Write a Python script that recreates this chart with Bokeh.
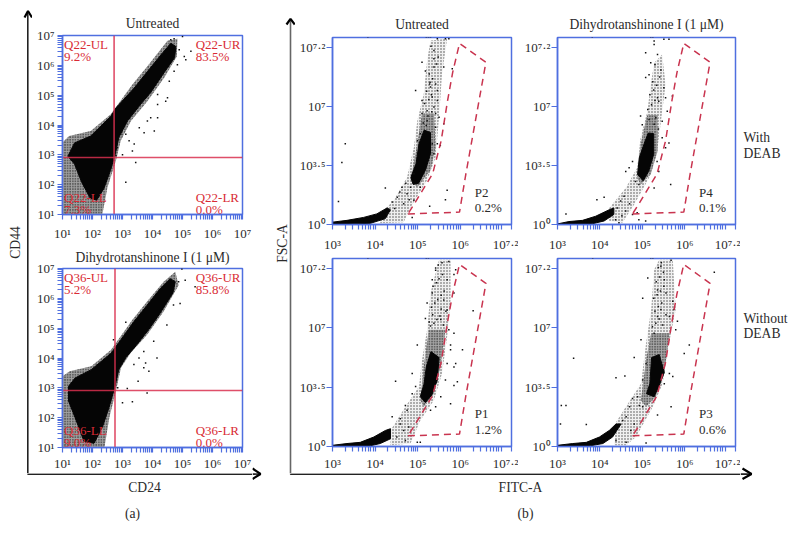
from math import pi
from bokeh.embed import file_html
from bokeh.resources import INLINE
from bokeh.plotting import figure
from bokeh.layouts import row, column
from bokeh.models import FixedTicker
from bokeh.core.properties import value

FONT = "Liberation Serif"
BLUE = "#4f6fe0"
RED = "#d9304f"
GATE = "#c9344f"
TXT = "#2b2b2b"

# ---------- panel (a): CD24 / CD44, log10 values
a_major_exp = [1, 2, 3, 4, 5, 6, 7]
a_major_labels = ["10¹", "10²", "10³", "10⁴", "10⁵", "10⁶", "10⁷"]
a_titles = ["Untreated", "Dihydrotanshinone I (1 μM)"]
a1_labels = ["Q22-UL", "9.2%", "Q22-UR", "83.5%", "Q22-LL", "7.3%", "Q22-LR", "0.0%"]
a2_labels = ["Q36-UL", "5.2%", "Q36-UR", "85.8%", "Q36-LL", "9.0%", "Q36-LR", "0.0%"]
a_gate_x = [2.72, 2.75]
a_gate_y = [2.91, 2.91]

a1_core_x = [1.18,1.40,1.94,2.61,2.78,3.39,3.83,4.28,4.61,4.78,4.74,4.39,3.94,3.61,3.17,2.88,2.76,2.60,2.38,2.14,1.92,1.64,1.40]
a1_core_y = [2.95,3.40,3.63,4.29,4.57,5.24,5.79,6.35,6.74,6.63,6.26,5.76,5.09,4.70,4.14,3.59,3.03,2.48,1.87,1.48,1.55,2.08,2.69]
a1_halo_x = [1,1.22,1.94,2.61,3.33,3.83,4.5,4.83,4.81,4.39,3.83,3.28,2.94,2.78,2.5,2.33,1]
a1_halo_y = [3.41,3.63,3.80,4.36,5.36,5.97,6.82,6.89,6.3,5.58,4.8,4.13,3.47,2.8,1.91,1.02,1.02]
a1_dots_x = [3.44,3.11,3.33,3,2.78,3.39,3.72,4.06,3.94,4.17,4.44,4.17,4.72,4.83,5.11,5.06,5.28,5,4.72,4.5,3.56,3.83,3.22,3.11,4.17,4.56,4.89,4.61,2.83,2.94]
a1_dots_y = [2.74,2.08,3.13,3,2.97,3.36,3.74,3.8,4.24,4.24,4.8,4.69,5.8,6.02,6.19,6.3,6.47,6.97,6.89,4.91,3.91,4.13,3.47,3.69,5.02,5.47,6.52,6.86,3.24,3.69]

a2_core_x = [1.20,1.42,1.96,2.62,2.78,3.38,3.82,4.26,4.59,4.76,4.68,4.26,3.88,3.49,3.11,2.88,2.74,2.55,2.33,2.05,1.72,1.42,1.20]
a2_core_y = [3.05,3.33,3.61,4.16,4.38,5.22,5.77,6.33,6.66,6.56,6.18,5.51,4.96,4.46,4.01,3.62,3.01,2.34,1.68,1.14,1.20,2.0,2.56]
a2_halo_x = [1,1.24,1.96,2.62,3.33,3.82,4.37,4.76,4.87,4.37,3.82,3.27,2.95,2.78,2.56,2.4,1]
a2_halo_y = [3.39,3.56,3.72,4.28,5.28,5.89,6.56,6.89,6.44,5.56,4.78,4.17,3.67,2.89,2.0,1.02,1.02]
a2_dots_x = [3,3.33,3.82,3.16,3.52,3.71,3.77,4.15,3.88,4.92,5.09,4.98,4.87,2.84,2.7,3.11,5.42,3.38,3.55,3.71,4.04,4.48,4.7]
a2_dots_y = [2.5,2.53,2.83,2.98,3.22,3.67,3.83,4,3.56,5.83,6.61,6.98,6.56,3,4.61,5.2,6.39,3.78,4,4.22,4.56,5.11,5.78]

# ---------- panel (b): FITC-A (log10) / FSC-A (axis steps)
b_x_major_exp = [3, 4, 5, 6, 7.2]
b_x_labels = ["10³", "10⁴", "10⁵", "10⁶", "10⁷·²"]
b_y_steps = [0, 1, 2, 3]
b_y_labels = ["10⁰", "10³·⁵", "10⁷", "10⁷·²"]
b_gate_x = [4.77,5.98,6.13,6.6,5.98,5.82,5.7,5.55,5.35,4.92,4.77]
b_gate_y = [0.18,0.21,0.86,2.75,3.07,2.58,2.1,1.42,0.86,0.35,0.18]
b_titles = ["Untreated", "Dihydrotanshinone I (1 μM)"]
b_gate_names = ["P2\n0.2%", "P4\n0.1%", "P1\n1.2%", "P3\n0.6%"]
b_side = ["With", "DEAB", "Without", "DEAB"]

b11_tail_x = [3,3.34,3.73,4.04,4.28,4.36,4.24,3.89,3]
b11_tail_y = [.04,.07,.12,.18,.28,.25,.10,.02,0]
b11_core_x = [4.84,4.96,5.03,5.15,5.30,5.30,5.18,5.02,4.89]
b11_core_y = [.80,1.03,1.37,1.60,1.56,1.2,.92,.70,.68]
b11_mid_x = [4.83,4.99,5.1,5.38,5.42,5.3,4.99]
b11_mid_y = [.75,1.37,1.88,1.88,1.31,.92,.63]
b11_halo_x = [4.12,4.44,4.75,4.91,4.99,5.14,5.22,5.3,5.69,5.57,5.5,5.42,5.22,4.83,4.67,4.12]
b11_halo_y = [.18,.41,.8,1.31,1.76,2.21,2.78,3.12,3.15,2.55,1.82,1.14,.75,.29,.04,.02]
b11_dots_x = [3.3,3.22,3.14,4.24,4.95,5.1,5.38,5.38,5.46,5.65,5.73,5.81,5.61,5.38,5.28,5.1,5.46,5.61,5.69,5.65,5.28,4.87,4.91,4.75,4.63,4.52,4.67,4.4,4.28,4.83,4.91,5.06,5.34,5.38,5.46,5.53,5.42,5.06,4.99,5.22,5.38,5.1,5.3,5.46,5.22,5.34,5.5,5.42,3.83,5.2,5.25,5.3,5.16,5.26,5.32,5.21,5.29,5.35,5.27,5.18,5.42,5.24,5.33,5.2,5.13,5.44,5.31,5.48,4.72,4.58,4.8,4.46]
b11_dots_y = [1.37,1.05,.39,.62,2.27,2.75,2.95,2.81,3.15,3.15,3.15,2.64,2.67,2.67,2.38,2.1,2.1,1.71,.58,.42,.31,.12,.41,.52,.63,.46,.35,.38,.18,.63,.86,.63,1.37,1.2,1.37,1.34,1.65,1.54,1.42,1.93,1.99,1.88,2.33,2.27,1.76,2.16,1.82,1.88,3.18,3.18,3.18,3.18,2.05,2.12,2.2,2.26,2.41,2.47,2.55,2.6,2.38,1.84,1.91,1.68,1.72,2.72,3.02,2.84,.7,.55,.42,.27]

b12_tail_x = [3,3.27,3.59,3.9,4.22,4.33,4.33,4.1,3.75,3]
b12_tail_y = [.01,.05,.07,.14,.25,.28,.17,.06,0,0]
b12_core_x = [4.89,4.93,5.05,5.14,5.27,5.27,5.15,5.02]
b12_core_y = [.85,1.13,1.38,1.55,1.54,1.19,.9,.74]
b12_mid_x = [4.88,4.96,5.12,5.36,5.36,5.2,4.96]
b12_mid_y = [.79,1.36,1.86,1.86,1.24,.85,.68]
b12_halo_x = [4.22,4.61,4.88,4.96,5.12,5.2,5.28,5.47,5.55,5.43,5.35,5.16,4.81,4.53,4.22]
b12_halo_y = [.28,.62,.96,1.47,1.92,2.37,2.74,2.88,2.37,1.69,1.24,.79,.34,.03,.06]
b12_dots_x = [3.2,4.1,3.93,4.61,4.69,4.77,4.84,4.92,5.08,5.28,5.51,5.63,5.08,5.36,5.3,5.16,5.51,5.55,5.71,5.59,5.39,5.47,5.47,5.63,5.55,5.35,5.39,5.67,5.28,5.08,4.92,4.61,4.49,4.57,4.41,4.37,4.45,4.77,4.88,5.28,5.2,4.96,5,5.32,5.36,3.82,5.2,5.25,5.13,5.22,5.3,5.18,5.27,5.34,5.25,5.41,5.16,5.28,5.38,5.44,4.7,4.52]
b12_dots_y = [.18,.46,.42,.9,.96,1.07,.73,.68,2.91,3.11,3.14,3.14,2.49,2.88,2.71,2.54,2.32,2.15,2.18,1.92,2.09,1.75,1.47,1.38,1.3,1.07,.9,.68,.62,.06,.08,.23,.4,.48,.28,.08,.03,.17,.2,3.05,2.74,1.84,1.69,1.81,2.15,3.18,3.18,3.18,1.95,2.03,2.1,2.2,2.28,2.36,2.42,2.5,1.78,1.7,1.62,2.62,.35,.15]

b21_tail_x = [3,3.34,3.65,3.97,4.24,4.36,4.36,4.12,3.81,3]
b21_tail_y = [.02,.05,.07,.16,.27,.3,.13,.05,0,0]
b21_core_x = [5.06,5.15,5.2,5.31,5.5,5.46,5.33,5.18]
b21_core_y = [.84,1.06,1.34,1.6,1.5,1.12,.87,.74]
b21_mid_x = [5.06,5.14,5.26,5.65,5.53,5.38,5.14]
b21_mid_y = [.78,1.34,1.97,1.97,1.34,.89,.67]
b21_halo_x = [4.36,4.71,5.03,5.1,5.22,5.3,5.5,5.77,5.77,5.69,5.57,5.38,5.06,4.83,4.36]
b21_halo_y = [.27,.67,1.01,1.46,1.97,2.59,3.15,3.15,2.47,1.85,1.23,.78,.44,.05,.02]
b21_dots_x = [4.48,4.99,4.71,4.59,4.4,4.59,4.87,4.95,4.75,4.87,5.18,5.22,5.42,5.85,5.73,5.85,5.89,5.93,5.85,6.05,6.3,5.85,5.69,5.89,5.85,5.69,5.77,5.65,5.54,5.77,5.42,5.3,4.99,5.06,4.79,4.67,4.51,4.71,5.77,5.61,5.69,5.54,5.34,5.34,5.57,5.73,3.83,5.2,5.25,5.3,5.38,5.45,5.52,5.6,5.66,5.32,5.4,5.47,5.55,5.62,5.36,5.44,5.5,5.58,5.42,5.48,5.55,5.27,5.35]
b21_dots_y = [1.1,1.71,.69,.47,.5,.38,.89,1.01,.61,1.23,2.16,2.42,3.01,2.9,1.97,1.91,1.4,1.09,1.03,1.63,2.29,2.59,2.81,2.98,1.34,1.4,1.63,1.12,.84,.72,.67,.61,.07,.07,.33,.27,.16,.1,1.71,2.47,2.3,2.14,2.81,2.59,3.1,3.12,3.18,3.18,3.18,2.03,2.08,2.14,2.2,2.05,2.28,2.35,2.42,2.48,2.55,2.62,2.7,2.76,2.83,2.9,2.97,3.06,2.32,2.1,2.22]

b22_tail_x = [3,3.36,3.68,3.99,4.22,4.38,4.5,4.3,4.07,3.68,3]
b22_tail_y = [.02,.05,.07,.16,.27,.38,.38,.16,.05,0,0]
b22_core_x = [5.1,5.18,5.22,5.4,5.52,5.38,5.28]
b22_core_y = [.89,1.06,1.5,1.55,1.25,1.0,.84]
b22_mid_x = [4.97,5.09,5.21,5.64,5.52,5.32,5.09]
b22_mid_y = [.78,1.46,1.91,1.91,1.23,.84,.67]
b22_halo_x = [4.38,4.66,4.97,5.09,5.21,5.28,5.4,5.72,5.79,5.6,5.48,5.25,4.85,4.62,4.34]
b22_halo_y = [.41,.72,1.06,1.74,2.31,2.98,3.15,3.15,2.31,1.63,1.06,.67,.16,.02,.02]
b22_dots_x = [3.38,3.09,3.2,3.07,3.68,4.38,4.59,4.81,4.97,5.01,5.13,5.44,5.68,6.7,6.11,5.99,5.79,5.83,5.75,5.72,5.64,5.72,5.52,5.68,5.36,5.09,4.7,4.77,4.93,5.01,4.89,4.62,4.54,4.73,4.81,4.62,4.38,5.52,5.36,5.44,5.36,5.56,5.28,5.64,5.09,5.01,3.83,5.2,5.25,5.24,5.32,5.4,5.48,5.56,5.3,5.38,5.46,5.27,5.35,5.43,5.51,5.33,5.41,5.5,5.38,5.45]
b22_dots_y = [1.49,.69,.69,.38,.37,1.16,1.19,1.5,1.8,2.5,2.84,3.04,3.14,2.94,1.71,1.57,1.97,2.11,2.31,2.45,1.23,1.18,1.06,.67,.53,.06,.67,.81,.69,.67,.84,.5,.44,.27,.38,.07,.1,2.81,2.64,2.31,2.19,2.59,1.91,2.19,1.4,1.12,3.18,3.18,3.18,2.02,2.08,2.15,2.05,2.22,2.28,2.36,2.42,2.5,2.56,2.62,2.7,2.78,2.86,2.94,3.02,3.1]


def pow10(seq):
    return [10.0 ** v for v in seq]


def decade_minors(lo, hi):
    return [m * 10.0 ** d for d in range(lo, hi) for m in range(2, 10)]


def base(w, h, l, r, t, b, xr, yr, y_log, x_standoff):
    p = figure(width=w, height=h, x_axis_type="log", y_axis_type="log" if y_log else "linear",
               x_range=xr, y_range=yr, toolbar_location=None, output_backend="svg",
               min_border_left=l, min_border_right=r, min_border_top=t, min_border_bottom=b,
               background_fill_color="white", border_fill_color="white")
    p.grid.visible = False
    p.outline_line_color = BLUE
    p.outline_line_width = 1.5
    for ax in (p.xaxis[0], p.yaxis[0]):
        ax.axis_line_color = BLUE
        ax.axis_line_width = 1.5
        ax.major_tick_line_color = BLUE
        ax.minor_tick_line_color = BLUE
        ax.major_tick_line_width = 1.2
        ax.minor_tick_line_width = 1.2
        ax.major_tick_in = 0
        ax.minor_tick_in = 0
        ax.major_tick_out = 5
        ax.minor_tick_out = 5
        ax.major_label_text_font = FONT
        ax.major_label_text_font_size = "13px"
        ax.major_label_text_color = TXT
    p.xaxis[0].major_label_standoff = x_standoff
    p.yaxis[0].major_label_standoff = 3
    return p


def stipple(p, xs, ys, fill, scale, alpha):
    p.patch(xs, ys, fill_color=fill, line_color=None, hatch_pattern="dot",
            hatch_color="black", hatch_scale=scale, hatch_alpha=alpha)


def set_title(p, text, standoff, offset=0):
    p.title.text = text
    p.title.align = "center"
    p.title.offset = offset
    p.title.text_font = FONT
    p.title.text_font_style = "normal"
    p.title.text_font_size = "13.6px"
    p.title.text_color = TXT
    p.title.standoff = standoff


def panel_a(w, h, l, r, t, b, title, title_standoff, x_standoff, labels, hx, hy, cx, cy, dx, dy, qx, qy):
    p = base(w, h, l, r, t, b, (10, 1e7), (10, 1e7), True, x_standoff)
    set_title(p, title, title_standoff)
    for ax in (p.xaxis[0], p.yaxis[0]):
        ax.ticker = FixedTicker(ticks=pow10(a_major_exp), minor_ticks=decade_minors(1, 7))
        ax.major_label_overrides = dict(zip(pow10(a_major_exp), a_major_labels))
    stipple(p, pow10(hx), pow10(hy), "#a2a2a2", 2.6, 1)
    p.patch(pow10(cx), pow10(cy), fill_color="#050505", line_color="#050505", line_width=1)
    p.scatter(pow10(dx), pow10(dy), marker="square", size=1.5, color="#111111", line_color=None)
    p.line([10 ** qx, 10 ** qx], [10, 1e7], line_color=RED, line_width=1.6, line_alpha=0.85)
    p.line([10, 1e7], [10 ** qy, 10 ** qy], line_color=RED, line_width=1.6, line_alpha=0.85)
    tx = [1.05, 1.05, 5.44, 5.44, 1.05, 1.05, 5.44, 5.44]
    ty = [6.71, 6.3, 6.71, 6.3, 1.58, 1.16, 1.58, 1.16]
    p.text(pow10(tx), pow10(ty), text=labels, text_font=value(FONT), text_font_size="13px",
           text_color="#d92b35", text_baseline="middle", text_align="left")
    return p


def panel_b(w, h, l, r, t, b, title, title_offset, x_standoff, gate_name, hx, hy, mx, my, tail, core, dx, dy):
    p = base(w, h, l, r, t, b, (1e3, 10 ** 7.2), (0, 3.17), False, x_standoff)
    if title:
        set_title(p, title, 12, title_offset)
    x = p.xaxis[0]
    x.ticker = FixedTicker(ticks=pow10(b_x_major_exp), minor_ticks=decade_minors(3, 7))
    x.major_label_overrides = dict(zip(pow10(b_x_major_exp), b_x_labels))
    y = p.yaxis[0]
    y.ticker = FixedTicker(ticks=b_y_steps)
    y.major_label_overrides = dict(zip(b_y_steps, b_y_labels))
    y.major_tick_out = 6
    y.major_label_standoff = 1
    stipple(p, pow10(hx), hy, "#f0f0f0", 3, 0.7)
    stipple(p, pow10(mx), my, "#a8a8a8", 2.6, 1)
    for cx, cy in (tail, core):
        p.patch(pow10(cx), cy, fill_color="#050505", line_color="#050505", line_width=1)
    p.scatter(pow10(dx), dy, marker="square", size=1.5, color="#111111", line_color=None)
    p.line(pow10(b_gate_x), b_gate_y, line_color=GATE, line_width=1.5, line_dash="7 5")
    name, pct = gate_name.split("\n")
    p.text(pow10([6.34, 6.34]), [0.55, 0.28], text=[name, pct], text_font=value(FONT),
           text_font_size="13px", text_color=TXT, text_baseline="middle", text_align="left")
    return p


def strip(x0, x1, y0, y1):
    p = figure(width=x1 - x0, height=y1 - y0, x_range=(x0, x1), y_range=(y1, y0),
               x_axis_location=None, y_axis_location=None, toolbar_location=None,
               output_backend="svg", min_border=0, outline_line_color=None)
    p.grid.visible = False
    return p


def put(p, x, y, s, angle=0, align="center"):
    p.text([x], [y], text=[s], text_font=value(FONT), text_font_size="13.6px", text_color=TXT,
           text_align=align, text_baseline="middle", angle=angle)


a1 = panel_a(220, 235, 30, 10, 27, 29, a_titles[0], 10, 6, a1_labels, a1_halo_x, a1_halo_y, a1_core_x, a1_core_y, a1_dots_x, a1_dots_y, a_gate_x[0], a_gate_y[0])
a2 = panel_a(220, 230, 30, 9, 24, 26, a_titles[1], 8, 3, a2_labels, a2_halo_x, a2_halo_y, a2_core_x, a2_core_y, a2_dots_x, a2_dots_y, a_gate_x[1], a_gate_y[1])

b11 = panel_b(223, 246, 37, 7, 29, 30, b_titles[0], -9, 7, b_gate_names[0], b11_halo_x, b11_halo_y, b11_mid_x, b11_mid_y, (b11_tail_x, b11_tail_y), (b11_core_x, b11_core_y), b11_dots_x, b11_dots_y)
b12 = panel_b(222, 246, 39, 5, 29, 30, b_titles[1], -2, 7, b_gate_names[1], b12_halo_x, b12_halo_y, b12_mid_x, b12_mid_y, (b12_tail_x, b12_tail_y), (b12_core_x, b12_core_y), b12_dots_x, b12_dots_y)
b21 = panel_b(223, 219, 37, 7, 4, 27, None, 0, 4, b_gate_names[2], b21_halo_x, b21_halo_y, b21_mid_x, b21_mid_y, (b21_tail_x, b21_tail_y), (b21_core_x, b21_core_y), b21_dots_x, b21_dots_y)
b22 = panel_b(222, 219, 39, 5, 4, 27, None, 0, 4, b_gate_names[3], b22_halo_x, b22_halo_y, b22_mid_x, b22_mid_y, (b22_tail_x, b22_tail_y), (b22_core_x, b22_core_y), b22_dots_x, b22_dots_y)

# guide strips (arrows and outer labels)
AXC = "#222222"
s_a = strip(8, 32, 8, 473)
s_a.line([27.3, 27.3], [12, 473], line_color=AXC, line_width=1.6)
s_a.line([24, 27.5, 31.5], [17, 10.5, 17], line_color="black", line_width=2.2)
put(s_a, 15, 242, "CD44", angle=pi / 2)

bot_a = strip(8, 252, 473, 531)
bot_a.line([27.3, 27.3, 252], [473, 473.6, 473.6], line_color=AXC, line_width=1.6)
put(bot_a, 144, 487, "CD24")
put(bot_a, 132, 513, "(a)")

r_a = strip(252, 270, 8, 531)
r_a.line([252, 258], [473.6, 473.6], line_color=AXC, line_width=1.6)
r_a.line([252, 260, 252], [468, 473.5, 478.5], line_color="black", line_width=2.2)

s_b = strip(270, 295, 8, 473)
s_b.line([290, 290], [20, 473], line_color="#666666", line_width=1.6)
s_b.line([286, 290, 294.3], [24, 18.3, 24], line_color="black", line_width=2.2)
put(s_b, 282, 243, "FSC-A", angle=pi / 2)

bot_b = strip(270, 740, 473, 531)
bot_b.line([290, 290, 740], [473, 473.6, 473.6], line_color=AXC, line_width=1.6)
put(bot_b, 520, 487, "FITC-A")
put(bot_b, 525, 513, "(b)")

r_b = strip(740, 788, 8, 531)
r_b.line([740, 750], [473.6, 473.6], line_color=AXC, line_width=1.6)
r_b.line([742, 751, 742], [468, 473.5, 478.5], line_color="black", line_width=2.2)
put(r_b, 743, 137, b_side[0], align="left")
put(r_b, 743, 153, b_side[1], align="left")
put(r_b, 743, 318, b_side[2], align="left")
put(r_b, 743, 333, b_side[3], align="left")

left = row(column(row(s_a, column(a1, a2, spacing=0), spacing=0), bot_a, spacing=0), r_a, spacing=0)
right = row(column(row(s_b, column(row(b11, b12, spacing=0), row(b21, b22, spacing=0), spacing=0), spacing=0), bot_b, spacing=0), r_b, spacing=0)
root = row(left, right, spacing=0, margin=(8, 0, 0, 8))

open("out.html", "w").write(file_html(root, INLINE))
